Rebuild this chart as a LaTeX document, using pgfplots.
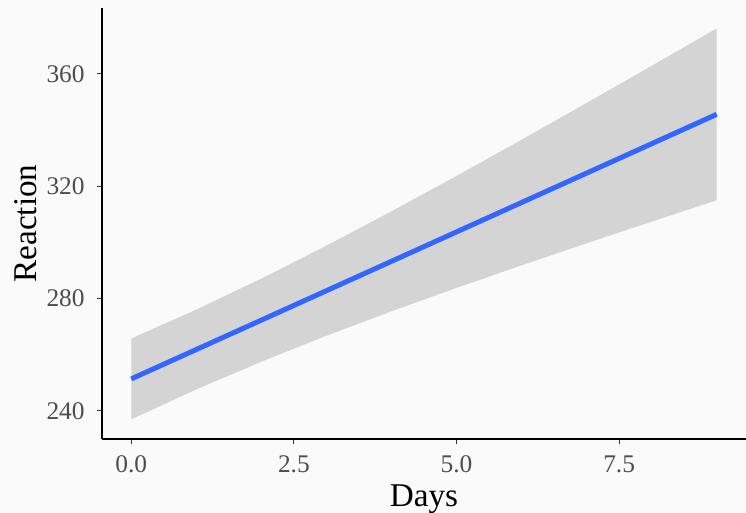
\documentclass[border=0pt]{standalone}
\usepackage{pgfplots}
\pgfplotsset{compat=1.18}
\usepackage{fontspec}
\setmainfont{Liberation Serif}
\definecolor{bgc}{HTML}{FAFAFA}
\definecolor{ribc}{HTML}{D4D4D4}
\definecolor{linec}{HTML}{3366FF}
\definecolor{tickc}{HTML}{4D4D4D}
\definecolor{tickl}{HTML}{333333}
\begin{document}
\begin{tikzpicture}
\fill[bgc] (-51bp,-37bp) rectangle (322bp,219.5bp);
\useasboundingbox (-51bp,-37bp) rectangle (322bp,219.5bp);
\begin{axis}[
  at={(0,0)}, anchor=south west,
  scale only axis, width=322bp, height=215.5bp,
  xmin=-0.45, xmax=9.45, ymin=230, ymax=383.5,
  axis x line*=bottom, axis y line*=left,
  axis line style={black, line width=1bp, -},
  xtick={0,2.5,5,7.5}, xticklabels={0.0,2.5,5.0,7.5},
  ytick={240,280,320,360},
  tick align=outside, major tick length=2.5bp,
  tick style={tickl, line width=0.5bp},
  /pgf/number format/assume math mode=true,
  ticklabel style={font=\fontsize{12.7bp}{14bp}\selectfont, text=tickc},
  xticklabel style={anchor=north, inner sep=0pt, yshift=-5.5bp},
  yticklabel style={anchor=east, inner sep=0pt, xshift=-6bp},
  xlabel={Days}, ylabel={Reaction},
  label style={font=\fontsize{16.6bp}{18bp}\selectfont, text=black},
  xlabel style={at={(axis description cs:0.5,0)}, anchor=base, yshift=-33.5bp},
  ylabel style={at={(axis description cs:0,0.5)}, anchor=base, yshift=32.5bp},
  clip=false,
]
\addplot[fill=ribc, draw=none] coordinates {
 (0,265.79) (1,276.09) (2,287.14) (3,298.84) (4,311.07) (5,323.69) (6,336.58) (7,349.67) (8,362.90) (9,376.22)
 (9,315.04) (8,307.42) (7,299.71) (6,291.86) (5,283.81) (4,275.49) (3,266.78) (2,257.54) (1,247.65) (0,237.01)
} -- cycle;
\addplot[linec, line width=2.5bp] coordinates {(0,251.4) (9,345.63)};
\end{axis}
\end{tikzpicture}
\end{document}
